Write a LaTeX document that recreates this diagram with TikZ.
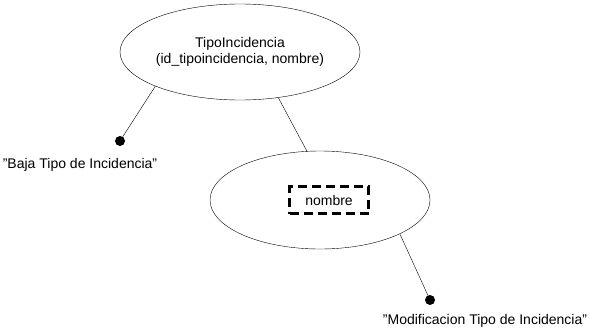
\documentclass[tikz,border=0pt]{standalone}
\usepackage{fontspec}
\setmainfont{Liberation Sans}
\usetikzlibrary{shapes.geometric}

\begin{document}
\begin{tikzpicture}[x=1pt, y=-1pt, font=\fontsize{14}{16.5}\selectfont]
                \useasboundingbox (0, 0) rectangle (601, 332);
                \node[shape=ellipse, draw, minimum width=240pt, minimum height=96pt, inner sep=0pt, align=center] (E1) at (240, 52) {TipoIncidencia\\(id\_tipoincidencia, nombre)};
                \node[shape=ellipse, draw, minimum width=220pt, minimum height=98pt] (E2) at (320, 200) {};
                \node[draw, line width=3pt, dash pattern=on 9pt off 5pt, minimum width=79pt, minimum height=27pt] (N1) at (329, 200) {nombre};

                \node[shape=circle, fill=black, minimum size=10pt, inner sep=0pt] (D1) at (120, 141) {};
                \node[shape=circle, fill=black, minimum size=10pt, inner sep=0pt] (D2) at (430, 300) {};
                \node (L1) at (80, 165) {"Baja Tipo de Incidencia"};
                \node (L2) at (485, 321) {"Modificacion Tipo de Incidencia"};

                \draw (E1.-50) -- (E2.105);
                \draw (E1.-158) -- (D1.center);
                \draw (E2.-23) -- (D2.center);

            \end{tikzpicture}
\end{document}
